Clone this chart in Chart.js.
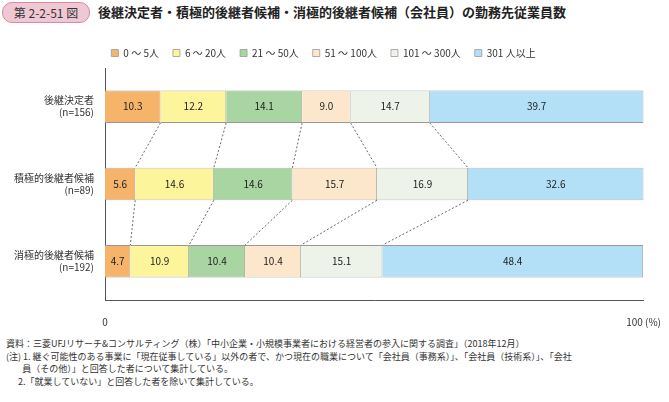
<!DOCTYPE html>
<html><head><meta charset="utf-8">
<script src="https://cdn.jsdelivr.net/npm/chart.js@4"></script>
<style>
body{margin:0;width:669px;height:402px;background:#fff;font-family:"Noto Sans CJK JP",sans-serif;position:relative;overflow:hidden}
#badge{position:absolute;left:2px;top:2px;width:86px;height:19px;border-radius:10px;background:#f0c8d4;border:1px solid #d98aa3;font-size:12px;line-height:19px;text-align:center;color:#333}
#title{position:absolute;left:98px;top:2px;font-size:13px;line-height:19px;color:#222;font-weight:bold}
#wrap{position:absolute;left:0;top:34px;width:669px;height:302px}
#notes{position:absolute;left:6px;top:338px;font-size:9px;line-height:12.5px;color:#333}
</style></head><body>
<div id="badge">第 2-2-51 図</div>
<div id="title">後継決定者・積極的後継者候補・消極的後継者候補（会社員）の勤務先従業員数</div>
<div id="wrap"><canvas id="c"></canvas></div>
<div id="notes">資料：三菱UFJリサーチ&amp;コンサルティング（株）「中小企業・小規模事業者における経営者の参入に関する調査」（2018年12月）<br>
(注) 1. 継ぐ可能性のある事業に「現在従事している」以外の者で、かつ現在の職業について「会社員（事務系）」、「会社員（技術系）」、「会社<br>
&nbsp;&nbsp;&nbsp;&nbsp;&nbsp;&nbsp;&nbsp;&nbsp;員（その他）」と回答した者について集計している。<br>
&nbsp;&nbsp;&nbsp;&nbsp;&nbsp;&nbsp;2.「就業していない」と回答した者を除いて集計している。</div>
<script>
const categories = [["後継決定者","(n=156)"],["積極的後継者候補","(n=89)"],["消極的後継者候補","(n=192)"]];
const seriesNames = ["0 ～ 5人","6 ～ 20人","21 ～ 50人","51 ～ 100人","101 ～ 300人","301 人以上"];
const size0_5 = [10.3, 5.6, 4.7];
const size6_20 = [12.2, 14.6, 10.9];
const size21_50 = [14.1, 14.6, 10.4];
const size51_100 = [9.0, 15.7, 10.4];
const size101_300 = [14.7, 16.9, 15.1];
const size301 = [39.7, 32.6, 48.4];
const colors = ["#f6b46a","#fdf59c","#a8d5a2","#fde7cc","#eef3ea","#b3e0f6"];
const seriesData = [size0_5,size6_20,size21_50,size51_100,size101_300,size301];

const connectors = {
  id:"connectors",
  afterDatasetsDraw(chart){
    const ctx=chart.ctx, x=chart.scales.x;
    ctx.save();ctx.setLineDash([2,2]);ctx.strokeStyle="#444";ctx.lineWidth=0.8;
    for(let r=0;r<categories.length-1;r++){
      let c1=0,c2=0;
      for(let s=0;s<seriesData.length-1;s++){
        c1+=seriesData[s][r];c2+=seriesData[s][r+1];
        const b1=chart.getDatasetMeta(s).data[r], b2=chart.getDatasetMeta(s).data[r+1];
        ctx.beginPath();
        ctx.moveTo(x.getPixelForValue(c1),b1.y+b1.height/2);
        ctx.lineTo(x.getPixelForValue(c2),b2.y-b2.height/2);
        ctx.stroke();
      }
    }
    ctx.restore();
  }
};
const labelsPlugin = {
  id:"vals",
  afterDatasetsDraw(chart){
    const ctx=chart.ctx;
    ctx.save();ctx.font="10px 'Noto Sans CJK JP'";ctx.fillStyle="#222";ctx.textAlign="center";ctx.textBaseline="middle";
    chart.data.datasets.forEach((d,i)=>chart.getDatasetMeta(i).data.forEach((b,j)=>{
      ctx.fillText(d.data[j].toFixed(1),(b.x+b.base)/2,b.y);
    }));
    ctx.restore();
  }
};
new Chart(document.getElementById("c"),{
  type:"bar",
  data:{labels:categories,datasets:seriesNames.map((n,i)=>({label:n,data:seriesData[i],backgroundColor:colors[i],borderColor:"#999",borderWidth:0.8,barPercentage:0.42,categoryPercentage:1}))},
  options:{
    indexAxis:"y",responsive:true,maintainAspectRatio:false,animation:false,
    layout:{padding:{right:22,top:0}},
    scales:{
      x:{stacked:true,min:0,max:100,grid:{display:false,drawTicks:true},border:{color:"#555"},
        afterBuildTicks(a){a.ticks=[{value:0},{value:100}];},
        ticks:{color:"#333",padding:8,font:{size:10,family:"Noto Sans CJK JP"},callback:v=>v===100?"100 (%)":"0"}},
      y:{stacked:true,grid:{display:false},border:{color:"#555"},
        afterFit(a){a.width=105;},
        ticks:{color:"#333",font:{size:10,family:"Noto Sans CJK JP"}}}
    },
    plugins:{
      legend:{position:"top",labels:{boxWidth:7,boxHeight:7,color:"#333",font:{size:10,family:"Noto Sans CJK JP"},padding:14}},
      tooltip:{enabled:false}
    }
  },
  plugins:[connectors,labelsPlugin]
});
</script></body></html>
